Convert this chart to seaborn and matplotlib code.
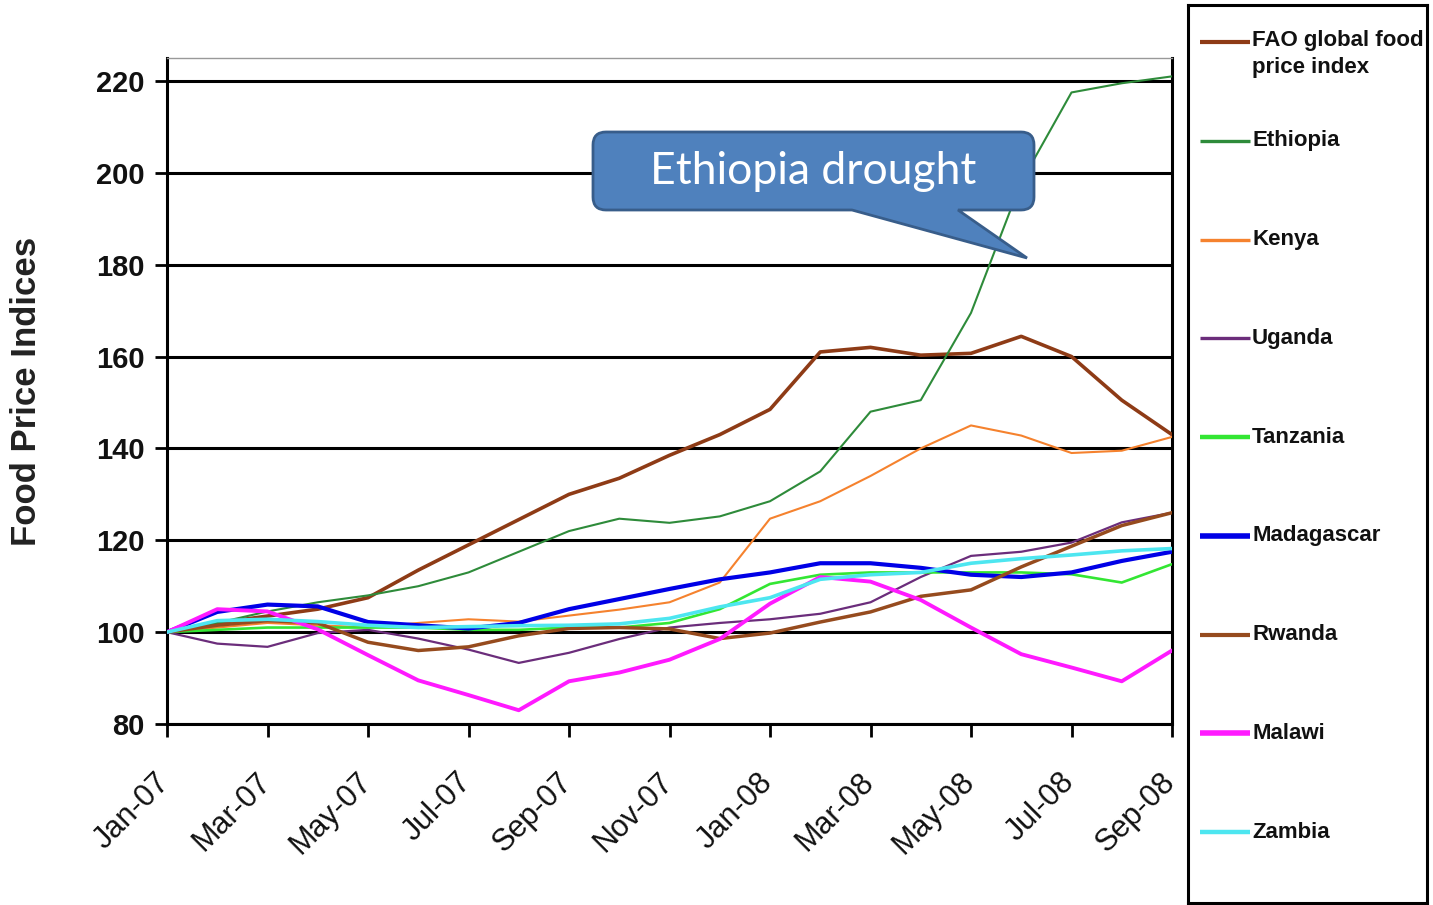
import numpy as np
import pandas as pd
import matplotlib
matplotlib.use("Agg")
import matplotlib.pyplot as plt
import matplotlib.transforms as mtransforms
import seaborn as sns
from matplotlib.path import Path
from matplotlib.patches import PathPatch

# ---- data: monthly food price indices (Jan-07 = 100) ----
months = ["Jan-07", "Feb-07", "Mar-07", "Apr-07", "May-07", "Jun-07", "Jul-07",
          "Aug-07", "Sep-07", "Oct-07", "Nov-07", "Dec-07", "Jan-08", "Feb-08",
          "Mar-08", "Apr-08", "May-08", "Jun-08", "Jul-08", "Aug-08", "Sep-08"]

fao        = [100, 102, 103.5, 105, 107.5, 113.5, 119, 124.5, 130, 133.5, 138.5,
              143, 148.5, 161, 162, 160.3, 160.7, 164.4, 160, 150.5, 143]
ethiopia   = [100, 102, 104.5, 106.5, 108, 110, 113, 117.5, 122, 124.7, 123.8,
              125.2, 128.5, 135, 148, 150.5, 169.5, 198, 217.5, 219.5, 221]
kenya      = [100, 101, 102, 101.5, 101, 102, 102.8, 102.3, 103.6, 104.9, 106.5,
              110.8, 124.7, 128.5, 134, 140, 145, 142.8, 139, 139.5, 142.5]
uganda     = [100, 97.5, 96.8, 99.8, 100.5, 98.6, 96.2, 93.3, 95.5, 98.5, 101,
              102, 102.8, 104, 106.5, 112, 116.6, 117.5, 119.5, 123.9, 126]
tanzania   = [100, 100.5, 101, 101, 101, 101, 100.5, 100.5, 101, 101, 102,
              105, 110.5, 112.5, 113, 113, 113, 113, 112.6, 110.8, 114.8]
madagascar = [100, 104.4, 106, 105.6, 102.2, 101.5, 100.8, 102, 105, 107.2, 109.4,
              111.5, 113, 115, 115, 114, 112.5, 112, 113, 115.5, 117.5]
rwanda     = [100, 101.5, 102.5, 102, 97.8, 96, 96.8, 99.2, 100.8, 101, 100.7,
              98.6, 99.8, 102.2, 104.4, 107.8, 109.2, 114.2, 118.7, 123.2, 126]
malawi     = [100, 105, 104.5, 100.6, 95, 89.5, 86.3, 83, 89.3, 91.2, 94,
              98.5, 106.2, 112, 111, 107, 101, 95.2, 92.3, 89.3, 96]
zambia     = [100, 102.5, 102.8, 102.3, 101.5, 101, 101.2, 101.4, 101.5, 101.8, 103,
              105.5, 107.5, 111.5, 112.5, 113, 115, 116, 116.8, 117.7, 118.2]

series_names = ["FAO global food price index", "Ethiopia", "Kenya", "Uganda",
                "Tanzania", "Madagascar", "Rwanda", "Malawi", "Zambia"]
series_values = [fao, ethiopia, kenya, uganda, tanzania, madagascar, rwanda, malawi, zambia]

colors = ["#8E3B16", "#2E8B3A", "#F5822E", "#6B2D7B", "#33E633",
          "#0000E6", "#964B1E", "#FF1AFF", "#4DE6F0"]
line_widths = [2.6, 1.5, 1.5, 1.6, 1.9, 3.0, 2.5, 2.8, 2.6]
legend_widths = [3.0, 2.4, 2.4, 2.4, 3.2, 4.0, 3.0, 4.0, 3.2]

long_df = pd.DataFrame({
    "month": np.tile(np.arange(len(months)), len(series_names)),
    "series": np.repeat(series_names, len(months)),
    "value": np.concatenate(series_values),
})

sns.set_theme(style="ticks")
plt.rcParams["font.family"] = ["Liberation Sans", "DejaVu Sans"]

W, H = 1433, 905
fig = plt.figure(figsize=(W / 100, H / 100), dpi=100)
fig.patch.set_facecolor("white")

# plot area in pixel terms
AX_L, AX_R, AX_T, AX_B = 167, 1172, 58, 724
ax = fig.add_axes([AX_L / W, 1 - AX_B / H, (AX_R - AX_L) / W, (AX_B - AX_T) / H])

for name, color, lw in zip(series_names, colors, line_widths):
    sub = long_df[long_df["series"] == name]
    sns.lineplot(data=sub, x="month", y="value", ax=ax, color=color,
                 linewidth=lw, legend=False, zorder=3)

ax.set_xlim(0, len(months) - 1)
ax.set_ylim(80, 225)
ax.set_yticks(np.arange(80, 221, 20))
ax.yaxis.grid(True, color="black", linewidth=2.2, zorder=1)
ax.set_axisbelow(True)

ax.tick_params(axis="both", which="major", direction="out", length=9, width=2,
               color="black", bottom=True, left=True)
ax.tick_params(axis="y", pad=7)
ax.tick_params(axis="x", pad=22)

ax.set_xticks(np.arange(0, len(months), 2))
ax.set_xticklabels(months[::2], rotation=45, ha="right", rotation_mode="anchor",
                   fontsize=22, color="#111111")
# nudge the slanted month labels a little to the left
shift = mtransforms.ScaledTranslation(-12 / 100, 0, fig.dpi_scale_trans)
for tick in ax.xaxis.get_major_ticks():
    tick.label1.set_transform(tick.label1.get_transform() + shift)
for lbl in ax.get_yticklabels():
    lbl.set_fontsize(21)
    lbl.set_fontweight("bold")
    lbl.set_color("#111111")

ax.set_xlabel("")
ax.set_ylabel("Food Price Indices", fontsize=25, fontweight="bold", color="#222222")
ax.yaxis.set_label_coords((43 - AX_L) / (AX_R - AX_L), 0.5)

for side in ["left", "bottom", "right"]:
    ax.spines[side].set_visible(True)
    ax.spines[side].set_color("black")
    ax.spines[side].set_linewidth(2.2)
ax.spines["top"].set_visible(True)
ax.spines["top"].set_color("#999999")
ax.spines["top"].set_linewidth(1.0)


# ---- callout bubble ----
def to_ax(px, py):
    return ((px - AX_L) / (AX_R - AX_L), (AX_B - py) / (AX_B - AX_T))


L, R, T, B, r = 593, 1034, 132, 210, 13
tail_left, tail_right, tip = 852, 958, (1027, 258)
pts = [
    ((L + r, T), Path.MOVETO),
    ((R - r, T), Path.LINETO),
    ((R, T), Path.CURVE3), ((R, T + r), Path.CURVE3),
    ((R, B - r), Path.LINETO),
    ((R, B), Path.CURVE3), ((R - r, B), Path.CURVE3),
    ((tail_right, B), Path.LINETO),
    (tip, Path.LINETO),
    ((tail_left, B), Path.LINETO),
    ((L + r, B), Path.LINETO),
    ((L, B), Path.CURVE3), ((L, B - r), Path.CURVE3),
    ((L, T + r), Path.LINETO),
    ((L, T), Path.CURVE3), ((L + r, T), Path.CURVE3),
    ((L + r, T), Path.CLOSEPOLY),
]
verts = [to_ax(*p) for p, _ in pts]
codes = [c for _, c in pts]
bubble = PathPatch(Path(verts, codes), transform=ax.transAxes, facecolor="#4F81BD",
                   edgecolor="#385D8A", linewidth=2.0, zorder=6, clip_on=False)
ax.add_patch(bubble)
cx, cy = to_ax((L + R) / 2, (T + B) / 2 + 1)
ax.text(cx, cy, "Ethiopia drought", transform=ax.transAxes, ha="center", va="center",
        color="white", fontsize=32, family=["Lato", "DejaVu Sans"], zorder=7)

# ---- legend panel ----
LG_L, LG_R, LG_T, LG_B = 1188, 1427, 5, 903
lax = fig.add_axes([LG_L / W, 1 - LG_B / H, (LG_R - LG_L) / W, (LG_B - LG_T) / H])
lax.set_xlim(LG_L, LG_R)
lax.set_ylim(LG_B, LG_T)
lax.set_xticks([])
lax.set_yticks([])
for s in lax.spines.values():
    s.set_color("black")
    s.set_linewidth(2.2)

first_y, step = 42, 98.75
for i, (name, color, lw) in enumerate(zip(series_names, colors, legend_widths)):
    y = first_y + i * step
    lax.plot([1200, 1250], [y, y], color=color, linewidth=lw, solid_capstyle="butt")
    if name.startswith("FAO"):
        lax.text(1252, y - 12, "FAO global food\nprice index", ha="left", va="top",
                 fontsize=16, fontweight="bold", linespacing=1.4, color="#111111")
    else:
        lax.text(1252, y, name, ha="left", va="center", fontsize=16,
                 fontweight="bold", color="#111111")

fig.savefig("out.png", dpi=100, facecolor="white")
